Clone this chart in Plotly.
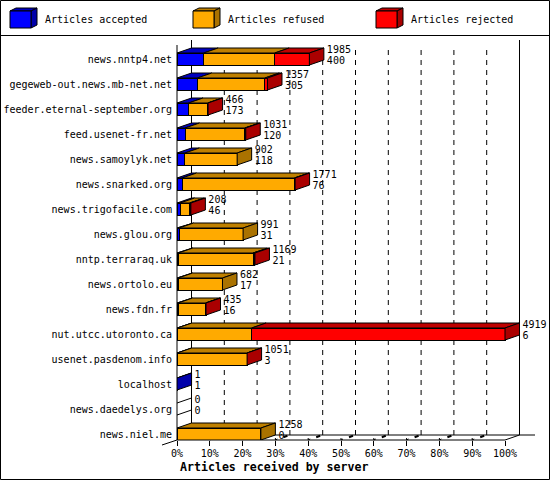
import plotly.graph_objects as go

servers = ["news.nntp4.net", "gegeweb-out.news.mb-net.net", "feeder.eternal-september.org",
           "feed.usenet-fr.net", "news.samoylyk.net", "news.snarked.org", "news.trigofacile.com",
           "news.glou.org", "nntp.terraraq.uk", "news.ortolo.eu", "news.fdn.fr",
           "nut.utcc.utoronto.ca", "usenet.pasdenom.info", "localhost", "news.daedelys.org",
           "news.niel.me"]
accepted = [400, 305, 173, 120, 118, 76, 46, 31, 21, 17, 16, 6, 3, 1, 0, 0]
refused = [1065, 1012, 288, 896, 784, 1685, 143, 960, 1119, 665, 413, 1113, 1047, 0, 0, 1258]
rejected = [520, 40, 5, 15, 0, 10, 19, 0, 29, 0, 6, 3800, 1, 0, 0, 0]
totals = [1985, 1357, 466, 1031, 902, 1771, 208, 991, 1169, 682, 435, 4919, 1051, 1, 0, 1258]
percent_ticks = [0, 10, 20, 30, 40, 50, 60, 70, 80, 90, 100]
legend_names = ["Articles accepted", "Articles refused", "Articles rejected"]

WIDTH, HEIGHT = 550, 480
LEFT, TOP, BOTTOM = 177, 36, 440
FONT = "DejaVu Sans Mono"
COLORS = ["#0000ff", "#ffaa00", "#ff0000"]
TOP_COLORS = ["#0000bf", "#bf8000", "#bf0000"]
SIDE_COLORS = ["#0000aa", "#aa7200", "#aa0000"]

# one bar row is 25px tall, 100% is 328px wide
max_count = max(totals)
per_px = max_count / 328
row_px = 25
half_bar = 6 / row_px
depth_px = 14.5
depth_x = depth_px * per_px
depth_y = 5 / row_px
rows = list(range(len(servers)))
tick_counts = [max_count * p / 100 for p in percent_ticks]


def paper_x(px):
    return (px - LEFT) / (WIDTH - LEFT)


def paper_y(py):
    return (BOTTOM - py) / (BOTTOM - TOP)


def line(x0, y0, x1, y1, width=1, **kw):
    return dict(type="line", xref="paper", yref="paper", x0=paper_x(x0), y0=paper_y(y0),
                x1=paper_x(x1), y1=paper_y(y1), line=dict(color="black", width=width), **kw)


def face_trace(xs, ys, color):
    return go.Scatter(x=xs, y=ys, mode="lines", fill="toself", fillcolor=color,
                      line=dict(color="black", width=1), hoverinfo="skip", showlegend=False)


fig = go.Figure()

# front faces
for name, values, color in zip(legend_names, [accepted, refused, rejected], COLORS):
    fig.add_trace(go.Bar(x=values, y=rows, orientation="h", width=2 * half_bar, name=name,
                         marker=dict(color=color, line=dict(color="black", width=1)), showlegend=False))

# top faces, one for each stacked segment
starts = [0] * len(rows)
for values, color in zip([accepted, refused, rejected], TOP_COLORS):
    xs, ys = [], []
    for r, v in enumerate(values):
        if v > 0:
            x0, x1, y = starts[r], starts[r] + v, r - half_bar
            xs += [x0, x0 + depth_x, x1 + depth_x, x1, x0, None]
            ys += [y, y - depth_y, y - depth_y, y, y, None]
        starts[r] += v
    fig.add_trace(face_trace(xs, ys, color))

# side faces take the colour of the last segment in the row
for i, color in enumerate(SIDE_COLORS + ["white"]):
    xs, ys = [], []
    for r in rows:
        segs = [accepted[r], refused[r], rejected[r]]
        last = max([k for k in range(3) if segs[k] > 0], default=3)
        if last == i:
            x, y0, y1 = totals[r], r - half_bar, r + half_bar
            xs += [x, x + depth_x, x + depth_x, x, x, None]
            ys += [y1, y1 - depth_y, y0 - depth_y, y0, y1, None]
    fig.add_trace(face_trace(xs, ys, color))

# value labels at the end of each bar
label_x = [t + depth_x + 3 * per_px for t in totals]
for texts, dy in [(totals, -9 / row_px), (accepted, 2 / row_px)]:
    fig.add_trace(go.Scatter(x=label_x, y=[r + dy for r in rows], mode="text", text=[str(t) for t in texts],
                             textposition="middle right", textfont=dict(family=FONT, size=10, color="black"),
                             hoverinfo="skip", showlegend=False, cliponaxis=False))

shapes = []
# dashed grid on the back wall
for c in tick_counts[1:-1]:
    shapes.append(dict(type="line", xref="x", yref="paper", x0=c + depth_x, x1=c + depth_x,
                       y0=paper_y(50), y1=paper_y(435), layer="below",
                       line=dict(color="black", width=1, dash="5px,5px")))
# floor marks: a stub at the tick and a short heavy piece further back
for c in tick_counts[1:-1]:
    fx = LEFT + c / per_px
    shapes.append(line(fx, 438, fx, 440, layer="below"))
    shapes.append(line(fx, 440, fx + 2, 439, layer="below"))
    shapes.append(line(fx + 8, 437.2, fx + 12, 435.8, width=2, layer="below"))

back = LEFT + depth_px
shapes += [
    line(0.5, 0.5, 549.5, 0.5), line(0.5, 479.5, 549.5, 479.5),
    line(0.5, 0.5, 0.5, 479.5), line(549.5, 0.5, 549.5, 479.5),
    line(0, 35.5, 550, 35.5),
    line(LEFT, 45, LEFT, 440, layer="below"),
    line(back, 40, back, 435, layer="below"),
    line(back + 328, 40, back + 328, 435, layer="below"),
    line(back, 435, 535, 435, layer="below"),
    line(LEFT, 440, LEFT + 328, 440),
    line(LEFT + 328, 440, back + 328, 435),
    line(LEFT - 15, 445, LEFT, 440),
]

# legend cubes
annotations = []
for name, x, c_front, c_top, c_side in zip(legend_names, [10, 193, 376], COLORS, TOP_COLORS, SIDE_COLORS):
    x1, y0, y1, dx, dy = x + 21, 11, 28, 6, 3
    faces = [
        ([(x, y0), (x + dx, y0 - dy), (x1 + dx, y0 - dy), (x1, y0)], c_top),
        ([(x1, y0), (x1 + dx, y0 - dy), (x1 + dx, y1 - dy), (x1, y1)], c_side),
        ([(x, y0), (x1, y0), (x1, y1), (x, y1)], c_front),
    ]
    for pts, fill in faces:
        path = "M " + " L ".join(f"{paper_x(a)} {paper_y(b)}" for a, b in pts) + " Z"
        shapes.append(dict(type="path", xref="paper", yref="paper", path=path, fillcolor=fill,
                           line=dict(color="black", width=1)))
    annotations.append(dict(text=name, xref="paper", yref="paper", x=paper_x(x + 33), y=paper_y(20),
                            xanchor="left", yanchor="middle", showarrow=False,
                            font=dict(family=FONT, size=10, color="black")))

annotations.append(dict(text="<b>Articles received by server</b>", xref="paper", yref="paper",
                        x=paper_x(274), y=paper_y(467), xanchor="center", yanchor="middle", showarrow=False,
                        font=dict(family=FONT, size=11.6, color="black")))

fig.update_layout(
    width=WIDTH, height=HEIGHT,
    margin=dict(l=LEFT, r=0, t=TOP, b=HEIGHT - BOTTOM, pad=0),
    barmode="stack",
    paper_bgcolor="white", plot_bgcolor="white",
    shapes=shapes, annotations=annotations,
    xaxis=dict(range=[0, (WIDTH - LEFT) * per_px], tickvals=tick_counts, ticktext=[f"{p}%" for p in percent_ticks],
               showgrid=False, zeroline=False, showline=False, ticks="outside", ticklen=5, tickcolor="black",
               ticklabelstandoff=-1, tickfont=dict(family=FONT, size=10, color="black")),
    yaxis=dict(range=[(BOTTOM - 59) / row_px, (TOP - 59) / row_px], tickvals=rows, ticktext=servers,
               showgrid=False, zeroline=False, showline=False, ticks="", ticklabelstandoff=4,
               tickfont=dict(family=FONT, size=10, color="black")),
)

# the page keeps the browser's default 8px body margin otherwise
fig.write_html("out.html", config=dict(displayModeBar=False),
               post_script="document.body.style.margin='0';document.body.style.overflow='hidden';")
